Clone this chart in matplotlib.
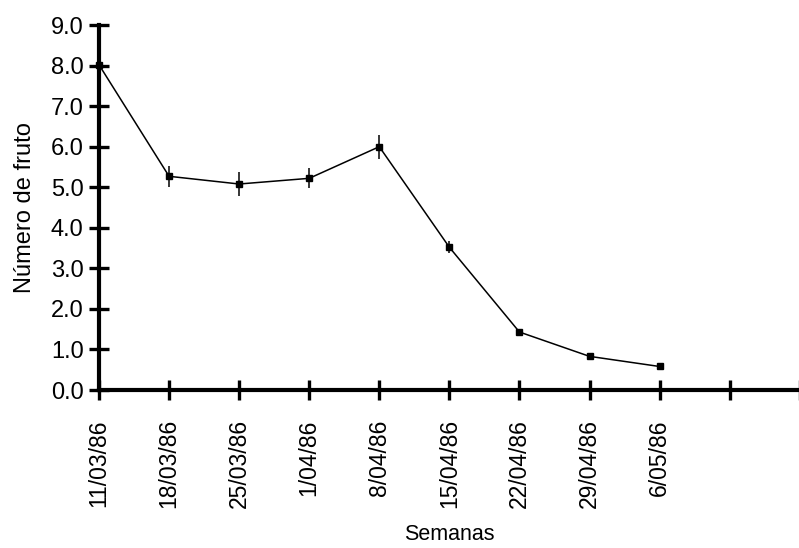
import numpy as np
import matplotlib.pyplot as plt

plt.rcParams['font.family'] = ['Liberation Sans', 'DejaVu Sans']

# Data
semanas = ['11/03/86', '18/03/86', '25/03/86', '1/04/86', '8/04/86',
           '15/04/86', '22/04/86', '29/04/86', '6/05/86']
frutos = [8.02, 5.27, 5.08, 5.22, 6.0, 3.52, 1.43, 0.83, 0.58]
errores = [0.15, 0.26, 0.30, 0.25, 0.30, 0.15, 0.05, 0.03, 0.02]

fig = plt.figure(figsize=(7.99, 5.48), dpi=100)
ax = fig.add_axes([0.1239, 0.2883, 0.877, 0.666])

x = np.arange(len(frutos))
ax.errorbar(x, frutos, yerr=errores, color='black', linewidth=1.1,
            elinewidth=1.1, capsize=0, marker='s', markersize=5,
            markerfacecolor='black', clip_on=False, zorder=3)

ax.set_xlim(0, 10)
ax.set_ylim(0, 9)
ax.set_xticks(np.arange(11))
ax.set_xticklabels(semanas + ['', ''], rotation=90, fontsize=16.5)
ax.set_yticks(np.arange(0, 10))
ax.set_yticklabels(['%.1f' % v for v in range(10)], fontsize=17)

for side in ['top', 'right']:
    ax.spines[side].set_visible(False)
for side in ['left', 'bottom']:
    ax.spines[side].set_linewidth(3)
ax.tick_params(direction='inout', length=14, width=2.4)
ax.tick_params(axis='y', pad=4)
ax.tick_params(axis='x', pad=14)

ax.set_ylabel('Número de fruto', fontsize=17, labelpad=11)
ax.set_xlabel('Semanas', fontsize=15.5, labelpad=11)

plt.savefig('out.png', dpi=100)
